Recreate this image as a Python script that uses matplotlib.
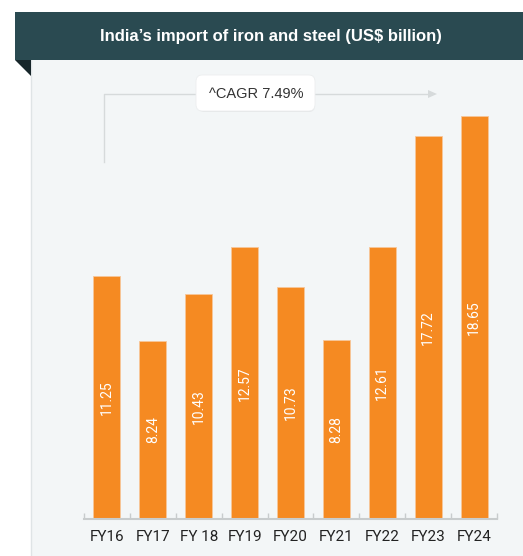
import matplotlib.pyplot as plt
from matplotlib.patches import Rectangle, Polygon, FancyBboxPatch

years = ["FY16", "FY17", "FY 18", "FY19", "FY20", "FY21", "FY22", "FY23", "FY24"]
imports = [11.25, 8.24, 10.43, 12.57, 10.73, 8.28, 12.61, 17.72, 18.65]
title = "India\u2019s import of iron and steel (US$ billion)"
cagr_text = "^CAGR 7.49%"

W, H = 523, 556
ORANGE = "#f58a22"
HEADER = "#2a4a51"
PANEL = "#f3f6f7"

plt.rcParams["font.family"] = ["Roboto", "DejaVu Sans"]


def fx(x):
    return x / W


def fy(y):
    return 1 - y / H


fig = plt.figure(figsize=(W / 100, H / 100), dpi=100)
fig.patch.set_facecolor("white")

# background panel, header ribbon and folded corner
fig.patches.append(Rectangle((fx(31), 0), 1 - fx(31), fy(60), transform=fig.transFigure,
                             facecolor=PANEL, edgecolor="none", zorder=-2))
fig.add_artist(plt.Line2D([fx(31), fx(31)], [0, fy(60)], color="#dfe4e6", lw=1, zorder=-1))
fig.patches.append(Rectangle((fx(15), fy(60)), 1 - fx(15), fy(12) - fy(60),
                             transform=fig.transFigure, facecolor=HEADER,
                             edgecolor="none", zorder=1))
fig.patches.append(Polygon([(fx(15), fy(60)), (fx(31), fy(60)), (fx(31), fy(76))],
                           closed=True, transform=fig.transFigure,
                           facecolor="#17262a", edgecolor="none", zorder=1))
fig.text(fx(271), fy(37), title, color="white", fontsize=12, fontweight="bold",
         ha="center", va="center", family=["Liberation Sans", "DejaVu Sans"])

# bar chart
ax = fig.add_axes([fx(84), fy(519), fx(497) - fx(84), fy(116) - fy(519)])
ax.set_zorder(2)
ax.set_facecolor("none")
xs = list(range(len(years)))
ax.bar(xs, imports, width=0.59, color=ORANGE, edgecolor="#f7c79a", linewidth=0.6)
for x, v in zip(xs, imports):
    ax.text(x, v / 2, f"{v:.2f}", rotation=90, color="white", fontsize=10,
            ha="center", va="center")

ax.set_xlim(-0.5, len(years) - 0.5)
ax.set_ylim(0, max(imports))
ax.set_xticks(xs)
ax.set_xticklabels(years, fontsize=11, color="#222222")
ax.set_xticks([x - 0.5 for x in range(len(years) + 1)], minor=True)
ax.tick_params(axis="x", which="major", length=0, pad=8)
ax.tick_params(axis="x", which="minor", length=4, direction="in", color="#c8cccd", width=1)
ax.set_yticks([])
for side in ["top", "left", "right"]:
    ax.spines[side].set_visible(False)
ax.spines["bottom"].set_color("#c8cccd")
ax.spines["bottom"].set_linewidth(1.5)

# CAGR bracket arrow with label box
line_col = "#d6dadb"
fig.add_artist(plt.Line2D([fx(104), fx(104), fx(428)], [fy(162), fy(94), fy(94)],
                          color=line_col, lw=1, zorder=2))
fig.patches.append(Polygon([(fx(428), fy(90)), (fx(437), fy(94)), (fx(428), fy(98))],
                           closed=True, transform=fig.transFigure,
                           facecolor=line_col, edgecolor="none", zorder=2))
fig.patches.append(FancyBboxPatch((fx(198), fy(112)), fx(315) - fx(198), fy(76) - fy(112),
                                  boxstyle="round,pad=0,rounding_size=0.012",
                                  transform=fig.transFigure, facecolor="#e4e7e8",
                                  edgecolor="none", zorder=3))
fig.patches.append(FancyBboxPatch((fx(196), fy(111)), fx(315) - fx(196), fy(75) - fy(111),
                                  boxstyle="round,pad=0,rounding_size=0.012",
                                  transform=fig.transFigure, facecolor="white",
                                  edgecolor="#eceeef", lw=0.6, zorder=4))
fig.text(fx(256), fy(94), cagr_text, fontsize=10.5, color="#333333",
         ha="center", va="center", zorder=5, family=["Liberation Sans", "DejaVu Sans"])

fig.savefig("out.png", dpi=100)
